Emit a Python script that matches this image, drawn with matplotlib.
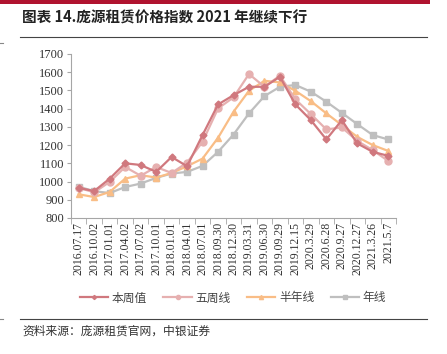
import matplotlib.pyplot as plt
from matplotlib.lines import Line2D
from matplotlib.patches import Rectangle
import numpy as np

plt.rcParams['font.family'] = ['Noto Sans CJK SC', 'DejaVu Sans']

dates = ['2016.07.17', '2016.10.02', '2017.01.01', '2017.04.02', '2017.07.02',
         '2017.10.01', '2018.01.01', '2018.04.01', '2018.07.01', '2018.09.30',
         '2018.12.30', '2019.03.31', '2019.06.30', '2019.09.29', '2019.12.15',
         '2020.3.29', '2020.6.28', '2020.9.27', '2020.12.27', '2021.3.26', '2021.5.7']

weekly = [965, 948, 1016, 1100, 1091, 1053, 1135, 1084, 1255, 1423, 1474,
          1520, 1520, 1575, 1423, 1337, 1231, 1337, 1209, 1163, 1141]
five_week = [965, 941, 998, 1080, 1032, 1080, 1047, 1104, 1218, 1401, 1462,
             1590, 1520, 1581, 1451, 1370, 1286, 1297, 1223, 1172, 1113]
half_year = [930, 915, 943, 1016, 1035, 1022, 1047, 1084, 1126, 1240, 1383,
             1498, 1553, 1544, 1498, 1441, 1374, 1310, 1245, 1200, 1168]
year_line = [972, 947, 937, 970, 989, 1020, 1044, 1053, 1086, 1163, 1258,
             1374, 1469, 1520, 1530, 1493, 1438, 1377, 1315, 1255, 1231]

W, H = 447, 354
fig = plt.figure(figsize=(W / 100, H / 100), dpi=100)

# header: red bar, title, rules
fig.add_artist(Rectangle((0, 1 - 4 / H), 430 / W, 4 / H, transform=fig.transFigure,
                         color='#B0132F', lw=0))
fig.text(22 / W, 1 - 18 / H, '图表 14.庞源租赁价格指数 2021 年继续下行', fontsize=10.5,
         fontweight='bold', va='center', ha='left', color='#222222')
fig.add_artist(Line2D([20 / W, 427 / W], [1 - 37 / H] * 2, color='#444444', lw=0.8))
fig.add_artist(Line2D([20 / W, 427 / W], [1 - 319 / H] * 2, color='#444444', lw=0.8))
# little edge marks at the left margin
fig.add_artist(Line2D([0, 3 / W], [1 - 43 / H] * 2, color='#888888', lw=0.8))
fig.add_artist(Line2D([0, 3 / W], [1 - 319 / H] * 2, color='#888888', lw=0.8))
fig.text(22 / W, 1 - 331 / H, '资料来源：庞源租赁官网，中银证券', fontsize=8.5,
         va='center', ha='left', color='#333333', style='italic')

ax = fig.add_axes([71 / W, 1 - 218 / H, 325 / W, 164 / H])
x = np.arange(len(dates))

ax.plot(x, year_line, color='#BFBFBF', lw=1.6, marker='s', ms=5, label='年线')
ax.plot(x, half_year, color='#F9BD86', lw=1.6, marker='^', ms=5, label='半年线')
ax.plot(x, five_week, color='#E6B0B0', lw=1.6, marker='o', ms=5, label='五周线')
ax.plot(x, weekly, color='#D0787E', lw=1.6, marker='D', ms=3.5, label='本周值')

ax.set_ylim(800, 1700)
ax.set_yticks(range(800, 1701, 100))
ax.set_xlim(-0.5, len(dates) - 0.5)
ax.set_xticks(x)
ax.set_xticklabels(dates, rotation=90, fontfamily='Liberation Serif', fontsize=8.5,
                   color='#333333')
ax.set_xticks(np.arange(-0.5, len(dates)), minor=True)
ax.tick_params(axis='x', which='major', length=0, pad=3)
ax.tick_params(axis='x', which='minor', length=4, color='#A6A6A6')
ax.tick_params(axis='y', length=3, color='#A6A6A6', pad=2, labelcolor='#333333')
for lab in ax.get_yticklabels():
    lab.set_fontfamily('Liberation Serif')
    lab.set_fontsize(9)
for s in ['top', 'right']:
    ax.spines[s].set_visible(False)
for s in ['left', 'bottom']:
    ax.spines[s].set_color('#A6A6A6')
    ax.spines[s].set_linewidth(0.8)

handles, labels = ax.get_legend_handles_labels()
order = [3, 2, 1, 0]
leg = fig.legend([handles[i] for i in order], [labels[i] for i in order],
                 loc='center', bbox_to_anchor=(233 / W, 1 - 298 / H), ncol=4,
                 frameon=False, fontsize=8.5, handlelength=2.4, columnspacing=1.4,
                 handletextpad=0.3, markerscale=0.6)
for t in leg.get_texts():
    t.set_color('#444444')

fig.savefig('out.png', dpi=100)
